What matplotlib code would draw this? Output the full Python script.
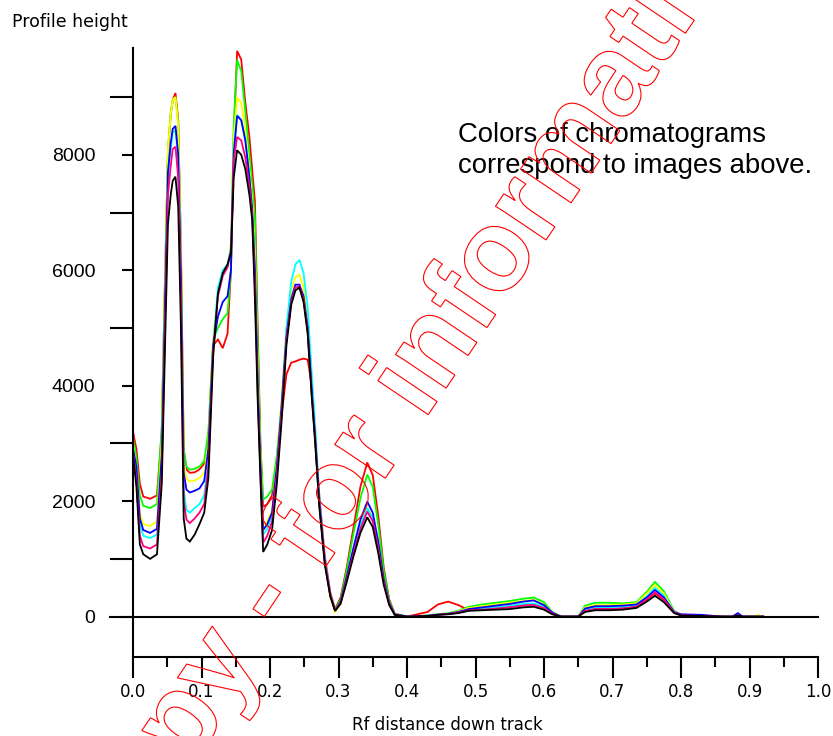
import matplotlib
matplotlib.use("Agg")
import matplotlib.pyplot as plt
from matplotlib.ticker import MultipleLocator, FormatStrFormatter
from matplotlib.textpath import TextPath
from matplotlib.patches import PathPatch
from matplotlib.font_manager import FontProperties
import matplotlib.transforms as mtransforms

# ---------------- data ----------------
rf = [0.000, 0.005, 0.010, 0.015, 0.025, 0.035, 0.042, 0.047, 0.051, 0.055,
      0.058, 0.062, 0.066, 0.070, 0.074, 0.078, 0.083, 0.090, 0.097, 0.104,
      0.110, 0.117, 0.124, 0.131, 0.138, 0.143, 0.147, 0.152, 0.158, 0.164,
      0.170, 0.174, 0.178, 0.182, 0.186, 0.190, 0.196, 0.203, 0.210, 0.217,
      0.224, 0.231, 0.237, 0.243, 0.249, 0.255, 0.261, 0.266, 0.272, 0.280,
      0.288, 0.295, 0.303, 0.312, 0.322, 0.332, 0.342, 0.350, 0.358, 0.366,
      0.374, 0.382, 0.400, 0.430, 0.445, 0.460, 0.475, 0.490, 0.510, 0.530,
      0.550, 0.570, 0.585, 0.600, 0.612, 0.625, 0.650, 0.660, 0.675, 0.695,
      0.715, 0.735, 0.750, 0.762, 0.775, 0.790, 0.800, 0.830, 0.860, 0.875,
      0.883, 0.890, 0.905, 0.912, 0.920]

red = [3200, 2900, 2300, 2080, 2040, 2100, 3200, 6000, 8000, 8700,
       8950, 9070, 8600, 6400, 2900, 2550, 2490, 2500, 2550, 2650,
       3100, 4700, 4800, 4650, 4900, 6000, 8300, 9800, 9650, 8900,
       8300, 7740, 7200, 5000, 3000, 1900, 1950, 2100, 2700, 3500,
       4200, 4400, 4420, 4450, 4470, 4450, 4000, 3100, 2100, 1050,
       420, 130, 330, 850, 1550, 2250, 2670, 2450, 1750, 850,
       300, 50, 0, 80, 210, 260, 200, 110, 130, 150,
       180, 200, 210, 160, 60, 0, 0, 110, 140, 140,
       150, 180, 300, 400, 290, 70, 25, 10, 0, 0,
       0, 0, 0, 0, 0]

green = [3100, 2750, 2100, 1920, 1880, 1950, 3300, 6000, 8100, 8700,
         8950, 9000, 8550, 6300, 2900, 2600, 2545, 2560, 2600, 2700,
         3200, 4800, 5000, 5150, 5260, 6000, 8500, 9645, 9450, 8750,
         8000, 7500, 6900, 4800, 3000, 2030, 2080, 2200, 2800, 3700,
         4800, 5450, 5650, 5700, 5500, 4950, 3850, 3050, 1950, 950,
         380, 120, 300, 800, 1450, 2050, 2460, 2250, 1600, 800,
         280, 50, 0, 20, 40, 60, 100, 170, 210, 240,
         270, 310, 330, 250, 80, 0, 0, 190, 240, 240,
         230, 250, 430, 600, 440, 100, 30, 15, 0, 0,
         0, 0, 0, 0, 0]

yellow = [3000, 2550, 1800, 1600, 1570, 1650, 3000, 5900, 8100, 8700,
          8950, 9000, 8500, 6200, 2700, 2400, 2340, 2360, 2400, 2500,
          3000, 4800, 5600, 5950, 6100, 6450, 8300, 8990, 8900, 8400,
          7700, 7200, 6300, 4300, 2800, 1560, 1650, 1850, 2650, 3800,
          5000, 5650, 5880, 5920, 5700, 5150, 4000, 3150, 2000, 950,
          330, 70, 230, 650, 1150, 1580, 1890, 1720, 1250, 630,
          230, 40, 0, 15, 40, 55, 90, 150, 180, 210,
          240, 270, 290, 210, 70, 0, 0, 160, 200, 200,
          210, 230, 400, 550, 400, 90, 30, 20, 0, 0,
          0, 0, 0, 30, 0]

cyan = [2950, 2450, 1600, 1400, 1360, 1420, 2700, 5500, 7600, 8100,
        8380, 8430, 7900, 5800, 2200, 1850, 1800, 1880, 1950, 2100,
        2700, 4700, 5700, 6000, 6100, 6400, 8100, 8690, 8600, 8250,
        7600, 7050, 6000, 4100, 2600, 1420, 1520, 1750, 2550, 3700,
        5000, 5800, 6100, 6180, 5950, 5350, 4200, 3300, 2100, 1000,
        380, 110, 250, 660, 1150, 1580, 1880, 1700, 1230, 620,
        230, 40, 0, 15, 35, 50, 80, 120, 140, 160,
        190, 220, 230, 170, 60, 0, 0, 120, 160, 160,
        170, 200, 350, 500, 360, 80, 30, 15, 0, 0,
        10, 0, 0, 0, 0]

blue = [2900, 2600, 1700, 1500, 1450, 1520, 2800, 5600, 7700, 8200,
        8450, 8500, 8000, 5900, 2500, 2200, 2150, 2180, 2220, 2350,
        2900, 4700, 5200, 5450, 5550, 6000, 8000, 8675, 8600, 8250,
        7600, 7050, 6000, 4100, 2650, 1500, 1600, 1800, 2600, 3650,
        4850, 5500, 5750, 5750, 5550, 5000, 3900, 3100, 2000, 950,
        370, 100, 260, 690, 1200, 1680, 1990, 1800, 1300, 650,
        240, 40, 0, 15, 35, 50, 80, 130, 160, 190,
        220, 260, 280, 200, 70, 0, 0, 140, 180, 180,
        190, 210, 330, 460, 330, 80, 40, 30, 0, 0,
        60, 0, 0, 0, 0]

pink = [2850, 2350, 1400, 1220, 1180, 1250, 2500, 5200, 7300, 7800,
        8100, 8140, 7600, 5500, 2000, 1680, 1620, 1700, 1800, 1950,
        2600, 4600, 5550, 5900, 6050, 6350, 7900, 8310, 8250, 7950,
        7450, 6950, 5750, 3900, 2500, 1280, 1400, 1650, 2450, 3550,
        4800, 5450, 5700, 5720, 5500, 4950, 3850, 3050, 1950, 950,
        370, 110, 240, 640, 1100, 1520, 1820, 1650, 1180, 600,
        220, 35, 0, 10, 30, 45, 70, 110, 120, 140,
        160, 190, 200, 150, 50, 0, 0, 100, 130, 130,
        140, 170, 300, 420, 300, 70, 25, 10, 0, 0,
        20, 0, 0, 0, 0]

black = [2800, 2250, 1250, 1080, 1000, 1080, 2300, 4800, 6800, 7300,
         7550, 7620, 7100, 5000, 1700, 1350, 1300, 1420, 1600, 1800,
         2400, 4500, 5600, 5950, 6100, 6300, 7600, 8080, 8000, 7750,
         7300, 6870, 5500, 3760, 2400, 1120, 1250, 1500, 2300, 3400,
         4700, 5400, 5650, 5700, 5450, 4900, 3800, 3000, 1900, 900,
         350, 100, 220, 600, 1050, 1450, 1720, 1550, 1100, 550,
         200, 30, 0, 10, 30, 40, 60, 100, 110, 120,
         130, 160, 170, 120, 40, 0, 0, 80, 110, 110,
         120, 150, 260, 360, 250, 60, 20, 10, 0, 0,
         20, 0, 0, 0, 0]

series = [red, green, yellow, cyan, blue, pink, black]
colors = ["#ff0000", "#00ff00", "#ffff00", "#00ffff", "#0000ff", "#ff0080", "#000000"]

y_major = [0, 2000, 4000, 6000, 8000]
y_minor = [1000, 3000, 5000, 7000, 9000]

# ---------------- figure ----------------
W, H = 833, 736
fig = plt.figure(figsize=(W / 100, H / 100), dpi=100)
fig.patch.set_facecolor("white")
ax = fig.add_axes([133 / W, 1 - 657 / H, (818 - 133) / W, (657 - 48) / H])

for ys, col in zip(series, colors):
    ax.plot(rf, ys, color=col, lw=1.3, solid_joinstyle="miter")

ax.set_xlim(0, 1.0)
ax.set_ylim(-700, 9850)

# zero line extending left like a long tick
ax.plot([-23 / 685, 1.0], [0, 0], color="black", lw=1.5, clip_on=False, zorder=5)

for s in ["top", "right"]:
    ax.spines[s].set_visible(False)
for s in ["left", "bottom"]:
    ax.spines[s].set_linewidth(1.5)

ax.xaxis.set_major_locator(MultipleLocator(0.1))
ax.xaxis.set_minor_locator(MultipleLocator(0.05))
ax.xaxis.set_major_formatter(FormatStrFormatter("%.1f"))
ax.tick_params(axis="x", which="major", length=15, width=1.5, labelsize=12, pad=4)
ax.tick_params(axis="x", which="minor", length=7.2, width=1.5)

ax.set_yticks(y_major)
ax.set_yticks(y_minor, minor=True)
ax.set_yticklabels([str(v) for v in y_major])
ax.tick_params(axis="y", which="major", length=8, width=1.5, labelsize=14, pad=19)
ax.tick_params(axis="y", which="minor", length=16.5, width=1.5)
for lbl in ax.get_yticklabels():
    lbl.set_fontfamily("Liberation Sans")
for lbl in ax.get_xticklabels():
    lbl.set_fontfamily("DejaVu Sans")

fig.text(12 / W, 1 - 22 / H, "Profile height", ha="left", va="center",
         fontsize=12.5, family="DejaVu Sans")
fig.text(447 / W, 1 - 725 / H, "Rf distance down track", ha="center", va="center",
         fontsize=12, family="DejaVu Sans")

fig.text(458 / W, 1 - 142 / H, "Colors of chromatograms", ha="left", va="baseline",
         fontsize=19.8, family="Liberation Sans", zorder=10)
fig.text(458 / W, 1 - 173 / H, "correspond to images above.", ha="left", va="baseline",
         fontsize=19.8, family="Liberation Sans", zorder=10)

# ---------------- watermark (outlined text) ----------------
prop = FontProperties(family="Liberation Sans", weight="bold")
S = 115
wm = "Copy - for information only"
tp = TextPath((0, 0), wm, size=S, prop=prop)
ext_fo = TextPath((0, 0), "Copy - fo", size=S, prop=prop).get_extents()
ext_o = TextPath((0, 0), "o", size=S, prop=prop).get_extents()
ocx = ext_fo.x1 - ext_o.width / 2
ocy = ext_o.y0 + ext_o.height / 2
tr = mtransforms.Affine2D().translate(-ocx, -ocy).rotate_deg(56).translate(336, H - 497)
patch = PathPatch(tp, transform=tr, facecolor="none", edgecolor="#ff0000", lw=0.8, zorder=20)
fig.add_artist(patch)

fig.savefig("out.png", dpi=100)
